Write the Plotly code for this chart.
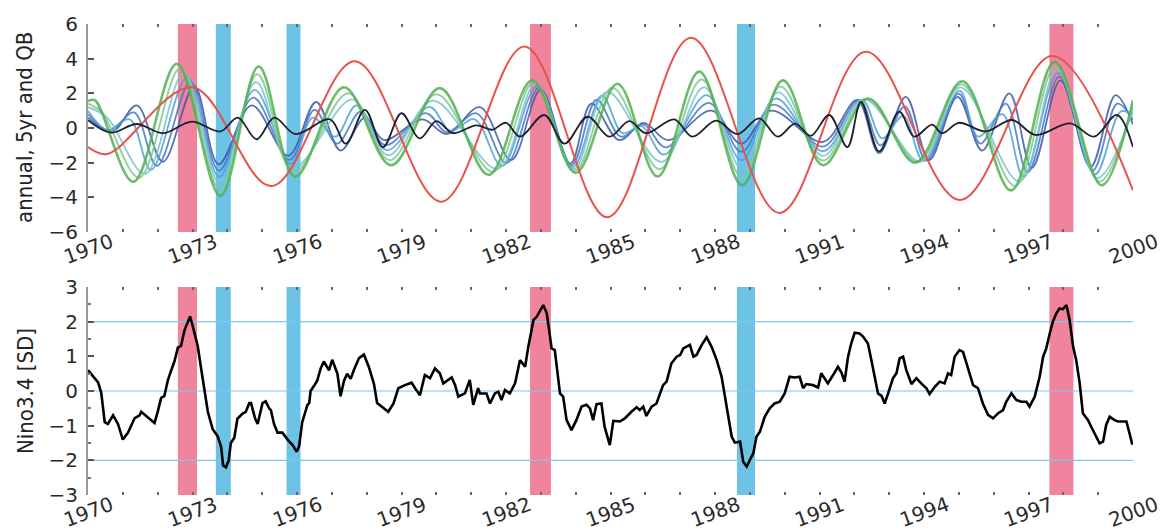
import plotly.graph_objects as go

# ---------------- data ----------------
YEAR_LABELS = [1970, 1973, 1976, 1979, 1982, 1985, 1988, 1991, 1994, 1997, 2000]
YEAR_TICKS = list(range(1970, 2001))

RED_BANDS = [(1972.58, 1973.13), (1982.69, 1983.29), (1997.60, 1998.29)]
BLUE_BANDS = [(1973.67, 1974.10), (1975.70, 1976.10), (1988.63, 1989.15)]
NINO_LEVELS = [-2, 0, 2]

# 5-yr component (red)
RED_T = [1970.0, 1970.55, 1973.0, 1975.27, 1977.66, 1980.14, 1982.53, 1984.91,
         1987.31, 1989.85, 1992.33, 1995.03, 1997.68, 2000.0]
RED_V = [-1.1, -1.5, 2.35, -3.35, 3.85, -4.25, 4.7, -5.15, 5.2, -4.9, 4.4, -4.15, 4.15, -3.6]

# annual component (black)
BLACK_T = [1970.0, 1970.65, 1971.4, 1972.15, 1972.98, 1973.8, 1974.3, 1974.84, 1975.35,
           1975.95, 1976.95, 1977.4, 1977.95, 1978.47, 1979.0, 1979.52, 1980.0, 1980.47,
           1981.15, 1981.6, 1982.0, 1982.4, 1983.1, 1983.68, 1984.34, 1984.97, 1985.54,
           1986.02, 1986.83, 1987.35, 1988.03, 1988.64, 1989.27, 1989.8, 1990.3, 1990.75,
           1991.28, 1991.8, 1992.19, 1992.71, 1993.29, 1993.72, 1994.23, 1994.52, 1995.0,
           1995.77, 1996.53, 1997.2, 1998.2, 1998.88, 1999.54, 2000.0]
BLACK_V = [0.45, -0.27, 0.23, -0.3, 0.37, -0.2, 0.6, -0.65, 0.6, -0.35, 0.5, -0.9, 1.05,
           -1.1, 0.85, -0.6, 0.4, -0.3, 0.15, -0.1, 0.3, -0.5, 0.75, -0.9, 0.65, -0.5, 0.4,
           -0.3, 0.5, -0.5, 0.42, -0.35, 0.55, -0.5, 0.25, -0.45, 0.75, -1.1, 1.5, -1.35,
           0.95, -0.5, 0.2, -0.3, 0.3, -0.2, 0.46, -0.4, 0.27, -0.5, 0.75, -1.1]

# QB family (dark blue -> green)
QB_T = [
    [1970.0, 1970.7, 1971.4, 1972.15, 1973.05, 1973.75, 1974.7, 1975.75, 1976.55, 1977.25,
     1977.95, 1978.5, 1979.6, 1980.3, 1981.25, 1982.15, 1983.0, 1983.85, 1984.45, 1985.25,
     1985.95, 1986.65, 1987.9, 1988.75, 1989.6, 1991.1, 1992.08, 1992.71, 1993.48, 1994.15,
     1994.96, 1995.67, 1996.45, 1997.1, 1997.92, 1998.78, 1999.5, 2000.0],
    [1970.0, 1970.62, 1971.32, 1971.98, 1972.95, 1973.76, 1974.74, 1975.79, 1976.5, 1977.15,
     1977.83, 1978.54, 1979.7, 1980.3, 1981.15, 1982.02, 1982.95, 1983.88, 1984.6, 1985.3,
     1985.95, 1986.59, 1987.83, 1988.76, 1989.67, 1991.1, 1992.14, 1992.75, 1993.45, 1994.07,
     1994.99, 1995.62, 1996.35, 1996.98, 1997.89, 1998.84, 1999.55, 2000.0],
    [1970.0, 1970.55, 1971.2, 1971.81, 1972.85, 1973.77, 1974.78, 1975.83, 1976.45, 1977.1,
     1977.71, 1978.58, 1979.8, 1980.4, 1981.1, 1981.89, 1982.9, 1983.91, 1984.75, 1985.35,
     1985.9, 1986.53, 1987.76, 1988.76, 1989.74, 1991.1, 1992.21, 1992.8, 1993.4, 1993.99,
     1995.02, 1995.55, 1996.25, 1996.86, 1997.85, 1998.91, 1999.65, 2000.0],
    [1970.0, 1970.55, 1971.64, 1972.75, 1973.78, 1974.82, 1975.87, 1977.59, 1978.62, 1979.9,
     1981.76, 1982.85, 1983.94, 1984.9, 1986.47, 1987.69, 1988.77, 1989.81, 1991.1, 1992.27,
     1993.91, 1995.04, 1996.74, 1997.82, 1998.97, 2000.0],
    [1970.0, 1970.4, 1971.47, 1972.65, 1973.79, 1974.86, 1975.91, 1977.47, 1978.66, 1980.0,
     1981.63, 1982.8, 1983.97, 1985.05, 1986.41, 1987.62, 1988.77, 1989.88, 1991.1, 1992.34,
     1993.83, 1995.07, 1996.62, 1997.78, 1999.04, 2000.0],
    [1970.0, 1970.2, 1971.3, 1972.55, 1973.8, 1974.9, 1975.95, 1977.35, 1978.7, 1980.1,
     1981.5, 1982.75, 1984.0, 1985.2, 1986.35, 1987.55, 1988.78, 1989.95, 1991.1, 1992.4,
     1993.75, 1995.1, 1996.5, 1997.75, 1999.1, 2000.0],
]
QB_V = [
    [0.6, -0.2, 1.3, -1.95, 2.4, -2.1, 1.3, -1.6, 1.5, -1.3, 0.6, -0.7, 0.5, -0.35, 1.2,
     -1.85, 2.2, -2.05, 1.4, -0.7, 0.3, -0.7, 1.0, -0.9, 1.0, -0.8, 1.6, -1.45, 1.8, -1.85,
     1.8, -1.3, 2.0, -2.3, 2.75, -2.25, 1.9, 0.2],
    [0.8, -0.15, 0.9, -2.18, 2.66, -2.46, 1.75, -1.84, 1.05, -0.9, 0.95, -0.99, 0.86, -0.25,
     0.85, -2.02, 2.31, -2.16, 1.63, -0.5, 0.2, -1.12, 1.45, -1.38, 1.35, -1.07, 1.62, -1.0,
     1.25, -1.88, 1.98, -0.9, 1.4, -2.56, 2.96, -2.46, 1.4, 0.48],
    [1.0, -0.1, 0.5, -2.41, 2.92, -2.82, 2.2, -2.08, 0.6, -0.5, 1.3, -1.28, 1.22, -0.15, 0.5,
     -2.19, 2.42, -2.27, 1.86, -0.3, 0.1, -1.54, 1.9, -1.86, 1.7, -1.34, 1.64, -0.6, 0.7,
     -1.91, 2.16, -0.5, 0.8, -2.82, 3.17, -2.67, 0.95, 0.76],
    [1.2, 0.6, -2.64, 3.18, -3.18, 2.65, -2.32, 1.65, -1.57, 1.58, -2.36, 2.53, -2.38, 2.09,
     -1.96, 2.35, -2.34, 2.05, -1.61, 1.66, -1.94, 2.34, -3.08, 3.38, -2.88, 1.04],
    [1.4, 0.9, -2.87, 3.44, -3.54, 3.1, -2.56, 2.0, -1.86, 1.94, -2.53, 2.64, -2.49, 2.32,
     -2.38, 2.8, -2.82, 2.4, -1.88, 1.68, -1.97, 2.52, -3.34, 3.59, -3.09, 1.32],
    [1.55, 1.6, -3.1, 3.7, -3.9, 3.55, -2.8, 2.35, -2.15, 2.3, -2.7, 2.75, -2.6, 2.55, -2.8,
     3.25, -3.3, 2.75, -2.15, 1.7, -2.0, 2.7, -3.6, 3.8, -3.3, 1.6],
]

# Nino3.4 index
NINO_T = [1970.0, 1970.14, 1970.29, 1970.38, 1970.48, 1970.57, 1970.72, 1970.86, 1971.0,
          1971.15, 1971.24, 1971.34, 1971.48, 1971.53, 1971.67, 1971.81, 1971.91, 1972.0,
          1972.1, 1972.19, 1972.29, 1972.39, 1972.48, 1972.58, 1972.67, 1972.77, 1972.86,
          1972.93, 1973.0, 1973.15, 1973.24, 1973.34, 1973.44, 1973.58, 1973.72, 1973.82,
          1973.88, 1973.96, 1974.04, 1974.1, 1974.2, 1974.29, 1974.44, 1974.53, 1974.63,
          1974.68, 1974.8, 1974.87, 1974.91, 1975.01, 1975.1, 1975.2, 1975.25, 1975.34,
          1975.44, 1975.58, 1975.77, 1975.87, 1975.99, 1976.06, 1976.15, 1976.3, 1976.35,
          1976.39, 1976.49, 1976.58, 1976.68, 1976.77, 1976.92, 1977.01, 1977.16, 1977.25,
          1977.35, 1977.44, 1977.54, 1977.63, 1977.78, 1977.92, 1978.06, 1978.21, 1978.3,
          1978.44, 1978.62, 1978.77, 1978.91, 1979.1, 1979.29, 1979.39, 1979.53, 1979.67,
          1979.82, 1979.96, 1980.1, 1980.2, 1980.44, 1980.54, 1980.63, 1980.82, 1980.96,
          1981.06, 1981.2, 1981.25, 1981.44, 1981.54, 1981.68, 1981.78, 1981.87, 1981.97,
          1982.11, 1982.26, 1982.4, 1982.55, 1982.64, 1982.79, 1982.88, 1983.07, 1983.17,
          1983.31, 1983.4, 1983.55, 1983.64, 1983.74, 1983.88, 1984.02, 1984.17, 1984.31,
          1984.41, 1984.5, 1984.6, 1984.74, 1984.83, 1984.98, 1985.08, 1985.27, 1985.41,
          1985.6, 1985.75, 1985.84, 1985.94, 1986.03, 1986.18, 1986.32, 1986.51, 1986.61,
          1986.75, 1986.9, 1987.0, 1987.09, 1987.19, 1987.28, 1987.38, 1987.47, 1987.62,
          1987.76, 1987.9, 1988.05, 1988.19, 1988.33, 1988.48, 1988.57, 1988.72, 1988.81,
          1988.91, 1989.0, 1989.1, 1989.19, 1989.29, 1989.43, 1989.57, 1989.71, 1989.86,
          1990.0, 1990.14, 1990.29, 1990.43, 1990.53, 1990.62, 1990.81, 1990.96, 1991.05,
          1991.15, 1991.24, 1991.39, 1991.53, 1991.63, 1991.72, 1991.82, 1991.91, 1992.01,
          1992.15, 1992.25, 1992.39, 1992.49, 1992.58, 1992.68, 1992.78, 1992.87, 1992.97,
          1993.11, 1993.21, 1993.3, 1993.4, 1993.49, 1993.64, 1993.78, 1993.92, 1994.07,
          1994.16, 1994.31, 1994.45, 1994.59, 1994.69, 1994.78, 1994.88, 1995.02, 1995.12,
          1995.26, 1995.41, 1995.55, 1995.69, 1995.84, 1995.98, 1996.13, 1996.27, 1996.36,
          1996.51, 1996.65, 1996.79, 1996.94, 1997.03, 1997.18, 1997.32, 1997.42, 1997.51,
          1997.61, 1997.7, 1997.8, 1997.89, 1997.99, 1998.09, 1998.18, 1998.28, 1998.37,
          1998.47, 1998.56, 1998.71, 1998.8, 1998.9, 1999.04, 1999.14, 1999.23, 1999.33,
          1999.47, 1999.57, 1999.71, 1999.81, 1999.9, 1999.98]
NINO_V = [0.6, 0.42, 0.25, -0.05, -0.9, -0.95, -0.7, -0.95, -1.4, -1.2, -1.0, -0.78, -0.7,
          -0.6, -0.72, -0.85, -0.92, -0.6, -0.2, -0.15, 0.3, 0.6, 0.85, 1.25, 1.3, 1.75, 1.95,
          2.15, 1.9, 1.3, 0.7, 0.0, -0.6, -1.1, -1.3, -1.6, -2.15, -2.2, -2.0, -1.5, -1.35,
          -0.8, -0.65, -0.6, -0.35, -0.35, -0.8, -0.95, -0.8, -0.35, -0.3, -0.5, -0.55, -0.95,
          -1.2, -1.2, -1.45, -1.55, -1.75, -1.6, -0.9, -0.4, -0.35, 0.0, 0.15, 0.3, 0.65, 0.85,
          0.6, 0.9, 0.5, -0.15, 0.3, 0.5, 0.35, 0.6, 0.95, 1.05, 0.7, 0.2, -0.35, -0.45, -0.6,
          -0.36, 0.08, 0.17, 0.24, 0.08, -0.12, 0.46, 0.37, 0.65, 0.51, 0.22, 0.39, 0.17,
          -0.16, -0.07, 0.32, -0.4, 0.08, -0.07, -0.07, -0.36, -0.07, -0.02, -0.26, 0.03,
          -0.07, 0.22, 0.89, 0.7, 1.28, 2.05, 2.14, 2.48, 2.24, 1.23, 1.18, -0.07, -0.16,
          -0.84, -1.13, -0.84, -0.45, -0.4, -0.5, -0.84, -0.38, -0.36, -1.03, -1.56, -0.86,
          -0.88, -0.79, -0.6, -0.47, -0.55, -0.45, -0.72, -0.45, -0.36, 0.17, 0.27, 0.8, 0.99,
          1.04, 1.23, 1.28, 1.33, 0.99, 1.04, 1.33, 1.55, 1.28, 0.89, 0.41, -0.45, -1.32,
          -1.49, -1.46, -2.04, -2.18, -1.99, -1.8, -1.32, -1.17, -0.74, -0.5, -0.36, -0.31,
          -0.07, 0.41, 0.39, 0.41, 0.08, 0.2, 0.17, 0.1, 0.51, 0.37, 0.22, 0.46, 0.7, 0.53,
          0.27, 0.99, 1.37, 1.68, 1.66, 1.57, 1.37, 0.89, 0.46, -0.07, -0.14, -0.36, -0.07,
          0.37, 0.51, 0.94, 0.99, 0.61, 0.2, 0.37, 0.22, 0.08, -0.09, 0.12, 0.27, 0.22, 0.51,
          0.46, 0.99, 1.18, 1.13, 0.7, 0.17, 0.08, -0.36, -0.69, -0.79, -0.64, -0.55, -0.31,
          -0.07, -0.26, -0.31, -0.31, -0.45, -0.16, 0.41, 0.99, 1.23, 1.66, 2.0, 2.24, 2.38,
          2.36, 2.48, 2.05, 1.28, 0.89, 0.22, -0.64, -0.84, -1.03, -1.22, -1.51, -1.46, -0.98,
          -0.74, -0.84, -0.88, -0.88, -0.88, -1.22, -1.55]

# ---------------- styling ----------------
QB_COLORS = ["#3d58a8", "#4479c4", "#4fa0d8", "#78c2d2", "#85c98e", "#52b254"]
QB_WIDTHS = [1.8, 1.8, 1.8, 1.8, 2.0, 2.6]
RED_BAND_COLOR = "#f0849c"
BLUE_BAND_COLOR = "#6cc3e6"
TICK_FONT = dict(family="DejaVu Sans", size=20, color="#2a2a2a")
TITLE_FONT = dict(family="DejaVu Sans Condensed, Liberation Sans Narrow, Noto Sans, sans-serif",
                  size=22, color="#222222")
TOP_DOMAIN = [0.5584, 1.0]
BOT_DOMAIN = [0.0, 0.4416]

fig = go.Figure()

for t, v, c, w in zip(QB_T, QB_V, QB_COLORS, QB_WIDTHS):
    fig.add_trace(go.Scatter(x=t, y=v, mode="lines", line=dict(color=c, width=w, shape="spline"),
                             opacity=0.85, xaxis="x", yaxis="y", hoverinfo="skip"))
fig.add_trace(go.Scatter(x=RED_T, y=RED_V, mode="lines",
                         line=dict(color="#e8524c", width=2.0, shape="spline"),
                         xaxis="x", yaxis="y", hoverinfo="skip"))
fig.add_trace(go.Scatter(x=BLACK_T, y=BLACK_V, mode="lines",
                         line=dict(color="#1e2030", width=1.8, shape="spline"),
                         xaxis="x", yaxis="y", hoverinfo="skip"))
fig.add_trace(go.Scatter(x=NINO_T, y=NINO_V, mode="lines",
                         line=dict(color="#000000", width=2.6),
                         xaxis="x2", yaxis="y2", hoverinfo="skip"))

shapes = []
for (x0, x1), col in [(b, RED_BAND_COLOR) for b in RED_BANDS] + [(b, BLUE_BAND_COLOR) for b in BLUE_BANDS]:
    for xr, yr in [("x", "y domain"), ("x2", "y2 domain")]:
        shapes.append(dict(type="rect", xref=xr, yref=yr, x0=x0, x1=x1, y0=0, y1=1,
                           fillcolor=col, line=dict(width=0), layer="below"))
for h in NINO_LEVELS:
    shapes.append(dict(type="line", xref="x2 domain", yref="y2", x0=0, x1=1, y0=h, y1=h,
                       line=dict(color="#7cc8e8", width=1.2), layer="below"))

annotations = []
for yr_ref in ["y domain", "y2 domain"]:
    xr = "x" if yr_ref == "y domain" else "x2"
    for yv in YEAR_LABELS:
        annotations.append(dict(x=yv, y=0, xref=xr, yref=yr_ref, text=str(yv), showarrow=False,
                                textangle=-20, xanchor="center", yanchor="middle", yshift=-17,
                                font=TICK_FONT))
annotations.append(dict(x=0, y=sum(TOP_DOMAIN) / 2, xref="paper", yref="paper",
                        text="annual, 5yr and QB", textangle=-90, showarrow=False,
                        xshift=-63, xanchor="center", yanchor="middle", font=TITLE_FONT))
annotations.append(dict(x=0, y=sum(BOT_DOMAIN) / 2, xref="paper", yref="paper",
                        text="Nino3.4 [SD]", textangle=-90, showarrow=False,
                        xshift=-63, xanchor="center", yanchor="middle", font=TITLE_FONT))

xcommon = dict(range=[1970, 2000], tickvals=YEAR_TICKS, ticks="inside", ticklen=3, tickwidth=2,
               tickcolor="#666666", showticklabels=False, mirror="ticks", showline=False,
               showgrid=False, zeroline=False, automargin=False)
yleft = dict(ticks="inside", tickcolor="#555555", tickwidth=1.5, ticklen=6, showline=True,
             linecolor="#9a9a9a", linewidth=2, showgrid=False, zeroline=False,
             tickfont=TICK_FONT, ticklabelstandoff=4, automargin=False)
yright = dict(side="right", ticks="inside", tickcolor="#444444", tickwidth=1.5, ticklen=5,
              showticklabels=False, showline=False, showgrid=False, zeroline=False,
              automargin=False)

# the page body adds an 8 px offset; margins are set so the plot lands at 88..1133 x 24..495
fig.update_layout(
    width=1172, height=532,
    margin=dict(l=80, r=47, t=16, b=45, autoexpand=False),
    paper_bgcolor="white", plot_bgcolor="white",
    showlegend=False,
    xaxis=dict(domain=[0, 1], anchor="y", **xcommon),
    xaxis2=dict(domain=[0, 1], anchor="y2", **xcommon),
    yaxis=dict(domain=TOP_DOMAIN, anchor="x", range=[-6, 6], tickvals=[-6, -4, -2, 0, 2, 4, 6], **yleft),
    yaxis2=dict(domain=BOT_DOMAIN, anchor="x2", range=[-3, 3], tickvals=[-3, -2, -1, 0, 1, 2, 3],
                minor=dict(tickvals=[-2.5, -1.5, -0.5, 0.5, 1.5, 2.5], ticks="inside", ticklen=3,
                           tickcolor="#777777"), **yleft),
    yaxis3=dict(domain=TOP_DOMAIN, anchor="x", overlaying="y", range=[-6, 6],
                tickvals=[-6, -4, -2, 0, 2, 4, 6], **yright),
    yaxis4=dict(domain=BOT_DOMAIN, anchor="x2", overlaying="y2", range=[-3, 3],
                tickvals=[-3, -2.5, -2, -1.5, -1, -0.5, 0, 0.5, 1, 1.5, 2, 2.5, 3], **yright),
    shapes=shapes,
    annotations=annotations,
)

fig.write_html("out.html")
